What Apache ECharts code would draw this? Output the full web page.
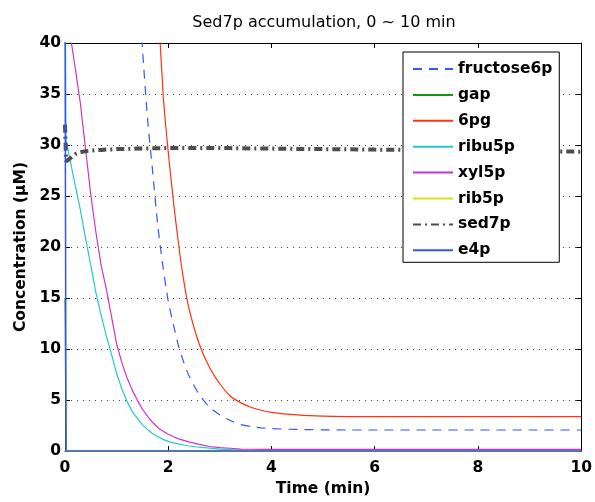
<!DOCTYPE html>
<html>
<head>
<meta charset="utf-8">
<title>Sed7p accumulation</title>
<script src="https://cdn.jsdelivr.net/npm/echarts@6/dist/echarts.min.js"></script>
<style>
  html, body { margin: 0; padding: 0; background: #fff; }
  #container { width: 595px; height: 502px; }
</style>
</head>
<body>
<div id="container"></div>
<script type="text/javascript">
// time points (min)
var times = [0, 0.02, 0.1, 0.2, 0.3, 0.4, 0.5, 0.6, 0.7, 0.8, 0.9, 1.0, 1.1, 1.2, 1.3, 1.4, 1.5, 1.6, 1.7, 1.8, 1.9,
             2.0, 2.1, 2.2, 2.3, 2.4, 2.6, 2.8, 3.0, 3.2, 3.4, 3.6, 3.8, 4.0, 4.5, 5.0, 5.5, 6, 7, 8, 9, 10];

// concentrations (uM), one value per time point
var fructose6p = [150, 148, 140, 130, 121, 113, 105, 97, 90, 83, 76, 70, 64, 58.5, 53, 47.5, 39.5, 32.5, 27.3, 22, 18,
                  14.7, 12.4, 10.3, 8.7, 7.4, 5.55, 4.3, 3.55, 3.0, 2.6, 2.4, 2.28, 2.2, 2.12, 2.08, 2.07, 2.07, 2.07, 2.07, 2.07, 2.07];
var gap        = [15, 0, 0, 0, 0, 0, 0, 0, 0, 0, 0, 0, 0, 0, 0, 0, 0, 0, 0, 0, 0,
                  0, 0, 0, 0, 0, 0, 0, 0, 0, 0, 0, 0, 0, 0, 0, 0, 0, 0, 0, 0, 0];
var pg6        = [200, 198, 190, 180, 170, 160, 150, 140, 131, 122, 113, 105, 97, 89, 81, 74, 66, 58, 51, 44, 35,
                  29.3, 24.5, 20.3, 16.7, 14, 10.5, 8.2, 6.6, 5.4, 4.75, 4.3, 4.0, 3.8, 3.55, 3.42, 3.38, 3.37, 3.37, 3.37, 3.37, 3.37];
var ribu5p     = [50, 30.5, 28.5, 26, 23.6, 20.8, 18.2, 15.5, 13.3, 11.3, 9.5, 7.6, 6.1, 4.9, 3.9, 3.2, 2.6, 2.1, 1.7, 1.4, 1.15,
                  0.95, 0.8, 0.7, 0.6, 0.5, 0.38, 0.3, 0.2, 0.15, 0.1, 0.08, 0.06, 0.05, 0.04, 0.04, 0.04, 0.04, 0.04, 0.04, 0.04, 0.04];
var xyl5p      = [55, 52, 40.8, 37.5, 34, 29.5, 25.1, 21.4, 18.2, 15.9, 13.2, 10.5, 8.7, 7.2, 6.0, 5.0, 4.1, 3.4, 2.8, 2.3, 1.95,
                  1.65, 1.4, 1.2, 1.05, 0.9, 0.66, 0.45, 0.35, 0.28, 0.2, 0.18, 0.17, 0.16, 0.16, 0.16, 0.16, 0.16, 0.16, 0.16, 0.16, 0.16];
var rib5p      = [0, 0, 0, 0, 0, 0, 0, 0, 0, 0, 0, 0, 0, 0, 0, 0, 0, 0, 0, 0, 0,
                  0, 0, 0, 0, 0, 0, 0, 0, 0, 0, 0, 0, 0, 0, 0, 0, 0, 0, 0, 0, 0];
var sed7p      = [32, 28.4, 28.7, 29.1, 29.3, 29.4, 29.45, 29.5, 29.52, 29.55, 29.57, 29.6, 29.6, 29.62, 29.63, 29.65, 29.66, 29.67, 29.68, 29.69, 29.7,
                  29.7, 29.7, 29.7, 29.7, 29.7, 29.7, 29.7, 29.7, 29.7, 29.68, 29.67, 29.66, 29.65, 29.62, 29.6, 29.58, 29.55, 29.5, 29.45, 29.4, 29.35];
var e4p        = [45, 0, 0, 0, 0, 0, 0, 0, 0, 0, 0, 0, 0, 0, 0, 0, 0, 0, 0, 0, 0,
                  0, 0, 0, 0, 0, 0, 0, 0, 0, 0, 0, 0, 0, 0, 0, 0, 0, 0, 0, 0, 0];

var names  = ['fructose6p', 'gap', '6pg', 'ribu5p', 'xyl5p', 'rib5p', 'sed7p', 'e4p'];
var values = [fructose6p, gap, pg6, ribu5p, xyl5p, rib5p, sed7p, e4p];
var colors = ['#3355ff', '#119911', '#ff3311', '#22cccc', '#cc33cc', '#dddd22', '#4d4d4d', '#3355ee'];
var widths = [1.2, 1.2, 1.2, 1.2, 1.2, 1.2, 4, 1.5];
var dashes = [[9, 7], 'solid', 'solid', 'solid', 'solid', 'solid', [8, 4, 2, 4], 'solid'];
var smooths = [0.25, false, 0.25, false, false, false, false, false];

var boldFont = { fontFamily: 'DejaVu Sans', fontWeight: 'bold', fontSize: 15.5, color: '#000' };

function pairs(vals) {
    var out = [];
    for (var i = 0; i < times.length; i++) {
        out.push([times[i], vals[i]]);
    }
    return out;
}

var series = [];
for (var k = 0; k < names.length; k++) {
    series.push({
        name: names[k],
        type: 'line',
        data: pairs(values[k]),
        showSymbol: false,
        symbol: 'none',
        smooth: smooths[k],
        color: colors[k],
        lineStyle: { color: colors[k], width: widths[k], type: dashes[k] },
        clip: true
    });
}

var myChart = echarts.init(document.getElementById('container'), null, { renderer: 'canvas' });

var option = {
    animation: false,
    backgroundColor: '#fff',
    title: {
        text: 'Sed7p accumulation, 0 ~ 10 min',
        left: 324,
        textAlign: 'center',
        top: 15,
        padding: 0,
        textStyle: { fontFamily: 'DejaVu Sans', fontWeight: 'normal', fontSize: 16, color: '#000' }
    },
    legend: {
        data: names,
        orient: 'vertical',
        left: 403,
        top: 52,
        padding: [9, 7, 4, 9],
        itemWidth: 40,
        itemHeight: 14,
        itemGap: 9.9,
        itemStyle: { opacity: 0 },
        borderColor: '#000',
        borderWidth: 1,
        backgroundColor: '#fff',
        selectedMode: false,
        textStyle: Object.assign({ width: 98 }, boldFont)
    },
    grid: { left: 65, right: 12, top: 43, bottom: 47 },
    xAxis: [{
        type: 'value',
        min: 0, max: 10, interval: 2,
        name: 'Time (min)',
        nameLocation: 'middle',
        nameGap: 29,
        nameTextStyle: boldFont,
        axisLine: { show: true, onZero: false, lineStyle: { color: '#000', width: 1 } },
        axisTick: { show: true, inside: true, length: 5, lineStyle: { color: '#000' } },
        axisLabel: Object.assign({ margin: 9 }, boldFont),
        splitLine: { show: false }
    }, {
        type: 'value',
        position: 'top',
        min: 0, max: 10, interval: 2,
        axisLine: { show: true, onZero: false, lineStyle: { color: '#000', width: 1 } },
        axisTick: { show: true, inside: true, length: 5, lineStyle: { color: '#000' } },
        axisLabel: { show: false },
        splitLine: { show: false }
    }],
    yAxis: [{
        type: 'value',
        min: 0, max: 40, interval: 5,
        name: 'Concentration (\u03BCM)',
        nameLocation: 'middle',
        nameGap: 35,
        nameTextStyle: boldFont,
        axisLine: { show: true, onZero: false, lineStyle: { color: '#000', width: 1 } },
        axisTick: { show: true, inside: true, length: 5, lineStyle: { color: '#000' } },
        axisLabel: Object.assign({ margin: 4 }, boldFont),
        splitLine: { show: true, lineStyle: { color: '#444', width: 1, type: [1, 5] } }
    }, {
        type: 'value',
        position: 'right',
        min: 0, max: 40, interval: 5,
        axisLine: { show: true, onZero: false, lineStyle: { color: '#000', width: 1 } },
        axisTick: { show: true, inside: true, length: 5, lineStyle: { color: '#000' } },
        axisLabel: { show: false },
        splitLine: { show: false }
    }],
    series: series
};

myChart.setOption(option);
</script>
</body>
</html>
